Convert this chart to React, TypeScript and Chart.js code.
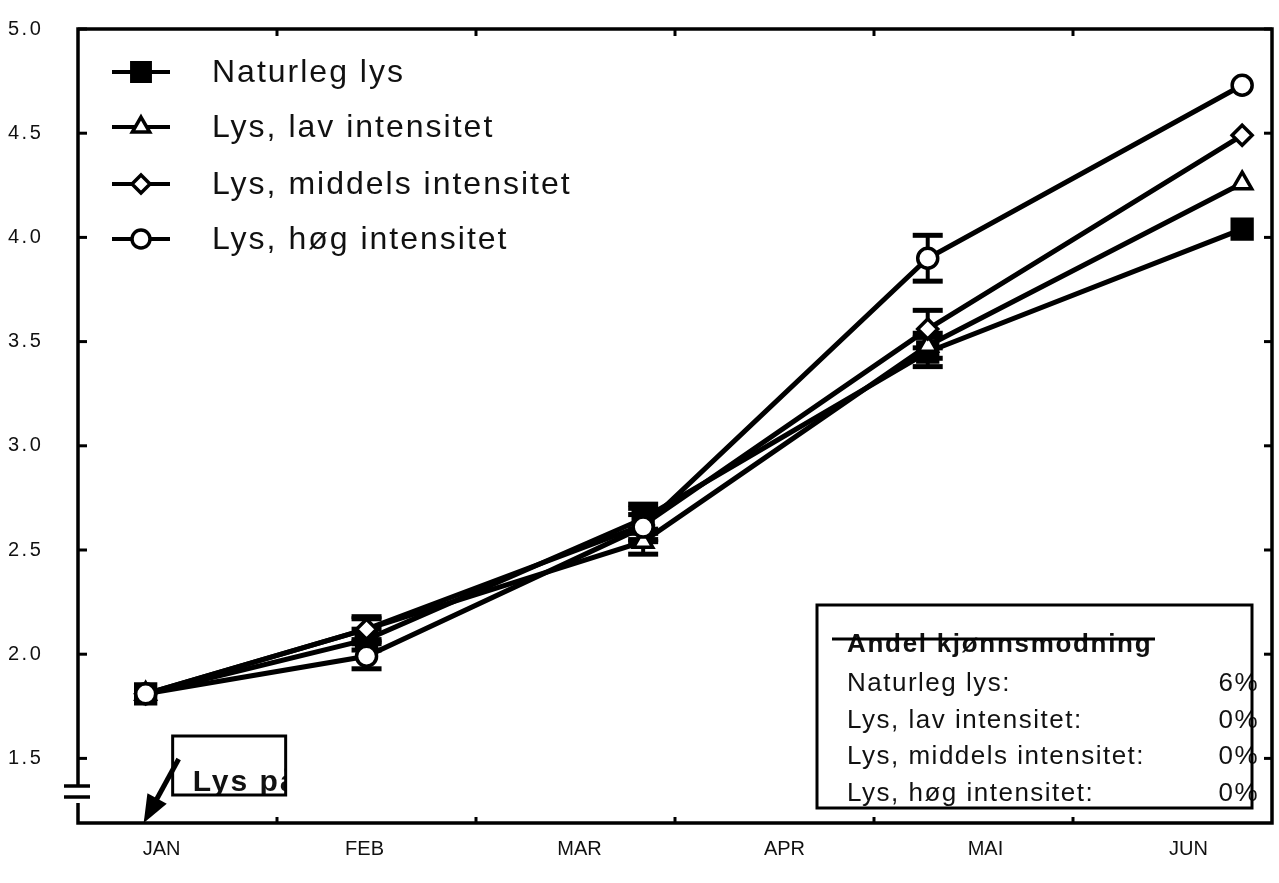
import React, { useEffect, useRef } from 'react';
import { Chart, registerables } from 'chart.js';
import { drawPoint } from 'chart.js/helpers';

Chart.register(...registerables);

// ---- data ----
const months = ['JAN', 'FEB', 'MAR', 'APR', 'MAI', 'JUN'];
const monthLabelPos = [0.42, 1.44, 2.52, 3.55, 4.56, 5.58];
const monthBoundaries = [1, 2, 3, 4, 5];
const sampleX = [0.34, 1.45, 2.84, 4.27, 5.85];
const yTicks = [1.5, 2.0, 2.5, 3.0, 3.5, 4.0, 4.5, 5.0];

const seriesNames = ['Naturleg lys', 'Lys, lav intensitet', 'Lys, middels intensitet', 'Lys, høg intensitet'];
const naturleg = [1.81, 2.07, 2.65, 3.45, 4.04];
const lav = [1.81, 2.12, 2.54, 3.48, 4.26];
const middels = [1.81, 2.12, 2.62, 3.56, 4.49];
const hog = [1.81, 1.99, 2.61, 3.9, 4.73];

const errNaturleg = [0, 0.05, 0.07, 0.07, 0];
const errLav = [0, 0.05, 0.06, 0.06, 0];
const errMiddels = [0, 0.06, 0.08, 0.09, 0];
const errHog = [0, 0.06, 0.06, 0.11, 0];

const maturityTitle = 'Andel kjønnsmodning';
const maturityLabels = ['Naturleg lys:', 'Lys, lav intensitet:', 'Lys, middels intensitet:', 'Lys, høg intensitet:'];
const maturityValues = ['6%', '0%', '0%', '0%'];
const lightOnLabel = 'Lys på';

// ---- styles ----
const seriesValues = [naturleg, lav, middels, hog];
const seriesErrors = [errNaturleg, errLav, errMiddels, errHog];
const pointStyles = ['rect', 'triangle', 'rectRot', 'circle'];
const pointFills = ['#000', '#fff', '#fff', '#fff'];
const pointRadii = [14, 11, 10, 10];
const drawOrder = [3, 2, 1, 0];
const FONT = 'Liberation Sans, Arial, sans-serif';
const INK = '#111';

function seg(ctx: CanvasRenderingContext2D, x1: number, y1: number, x2: number, y2: number) {
  ctx.beginPath();
  ctx.moveTo(x1, y1);
  ctx.lineTo(x2, y2);
  ctx.stroke();
}

const decorPlugin = {
  id: 'decor',
  beforeDatasetsDraw(chart: any) {
    const { ctx, scales } = chart;
    const x = scales.x;
    const y = scales.y;
    ctx.save();
    ctx.strokeStyle = '#000';
    ctx.lineCap = 'butt';
    seriesErrors.forEach((errs, di) => {
      const vals = seriesValues[di];
      errs.forEach((e, j) => {
        if (!e) return;
        const px = x.getPixelForValue(sampleX[j]);
        const t = y.getPixelForValue(vals[j] + e);
        const b = y.getPixelForValue(vals[j] - e);
        ctx.lineWidth = 4;
        seg(ctx, px, t, px, b);
        ctx.lineWidth = 5;
        seg(ctx, px - 15, t, px + 15, t);
        seg(ctx, px - 15, b, px + 15, b);
      });
    });
    ctx.restore();
  },
  afterDraw(chart: any) {
    const { ctx, chartArea: a, scales } = chart;
    const x = scales.x;
    const y = scales.y;
    ctx.save();
    ctx.strokeStyle = '#000';
    ctx.fillStyle = INK;

    // frame
    ctx.lineWidth = 3.5;
    ctx.strokeRect(a.left, a.top, a.right - a.left, a.bottom - a.top);

    // y tick labels (letter-spaced like the original)
    ctx.font = `20px ${FONT}`;
    (ctx as any).letterSpacing = '2.5px';
    ctx.textAlign = 'left';
    ctx.textBaseline = 'middle';
    ctx.fillStyle = INK;
    yTicks.forEach((v) => {
      ctx.fillText(v.toFixed(1), 8, y.getPixelForValue(v));
    });
    (ctx as any).letterSpacing = '0px';

    // x month labels
    ctx.font = `20px ${FONT}`;
    ctx.textAlign = 'center';
    ctx.textBaseline = 'middle';
    months.forEach((m, i) => {
      ctx.fillText(m, x.getPixelForValue(monthLabelPos[i]), a.bottom + 26);
    });

    // inner tick marks
    ctx.lineWidth = 3;
    yTicks.forEach((v) => {
      const py = y.getPixelForValue(v);
      seg(ctx, a.left, py, a.left + 9, py);
      seg(ctx, a.right - 8, py, a.right, py);
    });
    monthBoundaries.forEach((v) => {
      const px = x.getPixelForValue(v);
      seg(ctx, px, a.top, px, a.top + 7);
      seg(ctx, px, a.bottom - 6, px, a.bottom);
    });

    // axis break
    ctx.fillStyle = '#fff';
    ctx.fillRect(a.left - 5, a.bottom - 36, 10, 16);
    ctx.lineWidth = 3.5;
    seg(ctx, a.left - 14, a.bottom - 37, a.left + 12, a.bottom - 37);
    seg(ctx, a.left - 14, a.bottom - 26, a.left + 12, a.bottom - 26);

    // legend
    const rows = [43, 98, 155, 210];
    seriesNames.forEach((name, i) => {
      const ry = a.top + rows[i];
      ctx.lineWidth = 4;
      ctx.strokeStyle = '#000';
      seg(ctx, a.left + 34, ry, a.left + 92, ry);
      ctx.fillStyle = pointFills[i];
      ctx.strokeStyle = '#000';
      ctx.lineWidth = 3.5;
      drawPoint(ctx, { pointStyle: pointStyles[i], radius: pointRadii[i] - 1, rotation: 0, borderWidth: 3.5 } as any, a.left + 63, ry);
      ctx.fillStyle = INK;
      ctx.font = `32px ${FONT}`;
      (ctx as any).letterSpacing = '2px';
      ctx.textBaseline = 'middle';
      ctx.textAlign = 'left';
      ctx.fillText(name, a.left + 134, ry + 1);
    });
    (ctx as any).letterSpacing = '0px';

    // maturity box
    const bx = a.right - 455;
    const by = a.bottom - 218;
    const bw = 435;
    const bh = 203;
    ctx.save();
    ctx.beginPath();
    ctx.rect(0, by, chart.width, bh);
    ctx.clip();
    ctx.fillStyle = INK;
    ctx.textBaseline = 'alphabetic';
    ctx.textAlign = 'left';
    ctx.font = `bold 26px ${FONT}`;
    (ctx as any).letterSpacing = '1.7px';
    ctx.fillText(maturityTitle, bx + 30, by + 47);
    ctx.lineWidth = 3;
    ctx.strokeStyle = '#000';
    seg(ctx, bx + 15, by + 34, bx + 338, by + 34);
    ctx.font = `26px ${FONT}`;
    (ctx as any).letterSpacing = '1.5px';
    maturityLabels.forEach((lab, i) => {
      const ly = by + 86 + i * 36.7;
      ctx.textAlign = 'left';
      ctx.fillText(lab, bx + 30, ly);
      ctx.textAlign = 'right';
      ctx.fillText(maturityValues[i], bx + 442, ly);
    });
    (ctx as any).letterSpacing = '0px';
    ctx.restore();
    ctx.lineWidth = 3;
    ctx.strokeStyle = '#000';
    ctx.strokeRect(bx, by, bw, bh);

    // "Lys på" arrow and box
    const tipX = x.getPixelForValue(sampleX[0]) - 2;
    const tipY = a.bottom;
    const tailX = tipX + 35;
    const tailY = a.bottom - 64;
    const dx = tipX - tailX;
    const dy = tipY - tailY;
    const len = Math.hypot(dx, dy);
    const ux = dx / len;
    const uy = dy / len;
    const hl = 28;
    const hw = 11;
    const baseX = tipX - ux * hl;
    const baseY = tipY - uy * hl;
    ctx.lineWidth = 5;
    ctx.strokeStyle = '#000';
    seg(ctx, tailX, tailY, baseX + ux * 4, baseY + uy * 4);
    ctx.fillStyle = '#000';
    ctx.beginPath();
    ctx.moveTo(tipX, tipY);
    ctx.lineTo(baseX - uy * hw, baseY + ux * hw);
    ctx.lineTo(baseX + uy * hw, baseY - ux * hw);
    ctx.closePath();
    ctx.fill();

    const lx = tipX + 29;
    const ly = a.bottom - 87;
    const lw = 113;
    const lh = 59;
    ctx.save();
    ctx.beginPath();
    ctx.rect(lx, ly, lw, lh);
    ctx.clip();
    ctx.fillStyle = INK;
    ctx.font = `bold 30px ${FONT}`;
    (ctx as any).letterSpacing = '2px';
    ctx.textAlign = 'left';
    ctx.textBaseline = 'alphabetic';
    ctx.fillText(lightOnLabel, lx + 20, ly + 55);
    (ctx as any).letterSpacing = '0px';
    ctx.restore();
    ctx.lineWidth = 3;
    ctx.strokeStyle = '#000';
    ctx.strokeRect(lx, ly, lw, lh);

    ctx.restore();
  },
};

export default function App() {
  const ref = useRef<HTMLCanvasElement | null>(null);

  useEffect(() => {
    document.body.style.margin = '0';
    const canvas = ref.current;
    if (!canvas) return;
    const datasets = seriesNames.map((name, i) => ({
      label: name,
      data: seriesValues[i].map((v, j) => ({ x: sampleX[j], y: v })),
      borderColor: '#000',
      borderWidth: 5,
      pointStyle: pointStyles[i] as any,
      pointRadius: pointRadii[i],
      pointBackgroundColor: pointFills[i],
      pointBorderColor: '#000',
      pointBorderWidth: 3.5,
      tension: 0,
      fill: false,
      clip: false as any,
      order: drawOrder[i],
    }));
    const chart = new Chart(canvas, {
      type: 'line',
      data: { datasets },
      options: {
        responsive: false,
        animation: false,
        devicePixelRatio: 1,
        layout: { autoPadding: false, padding: { left: 8, top: 29, right: 7, bottom: 0 } },
        plugins: { legend: { display: false }, tooltip: { enabled: false } },
        scales: {
          x: {
            type: 'linear',
            min: 0,
            max: 6,
            grid: { display: false, drawTicks: false },
            border: { display: false },
            afterFit: (s: any) => {
              s.height = 60;
              s.paddingLeft = 0;
              s.paddingRight = 0;
            },
            ticks: { display: false },
          },
          y: {
            type: 'linear',
            min: 1.19,
            max: 5.0,
            grid: { display: false, drawTicks: false },
            border: { display: false },
            afterFit: (s: any) => {
              s.width = 70;
              s.paddingTop = 0;
              s.paddingBottom = 0;
            },
            ticks: { display: false },
          },
        },
      },
      plugins: [decorPlugin],
    });
    return () => chart.destroy();
  }, []);

  return (
    <div style={{ position: 'absolute', left: 0, top: 0, width: 1279, height: 883, background: '#fff' }}>
      <canvas ref={ref} width={1279} height={883} style={{ display: 'block' }} />
    </div>
  );
}
